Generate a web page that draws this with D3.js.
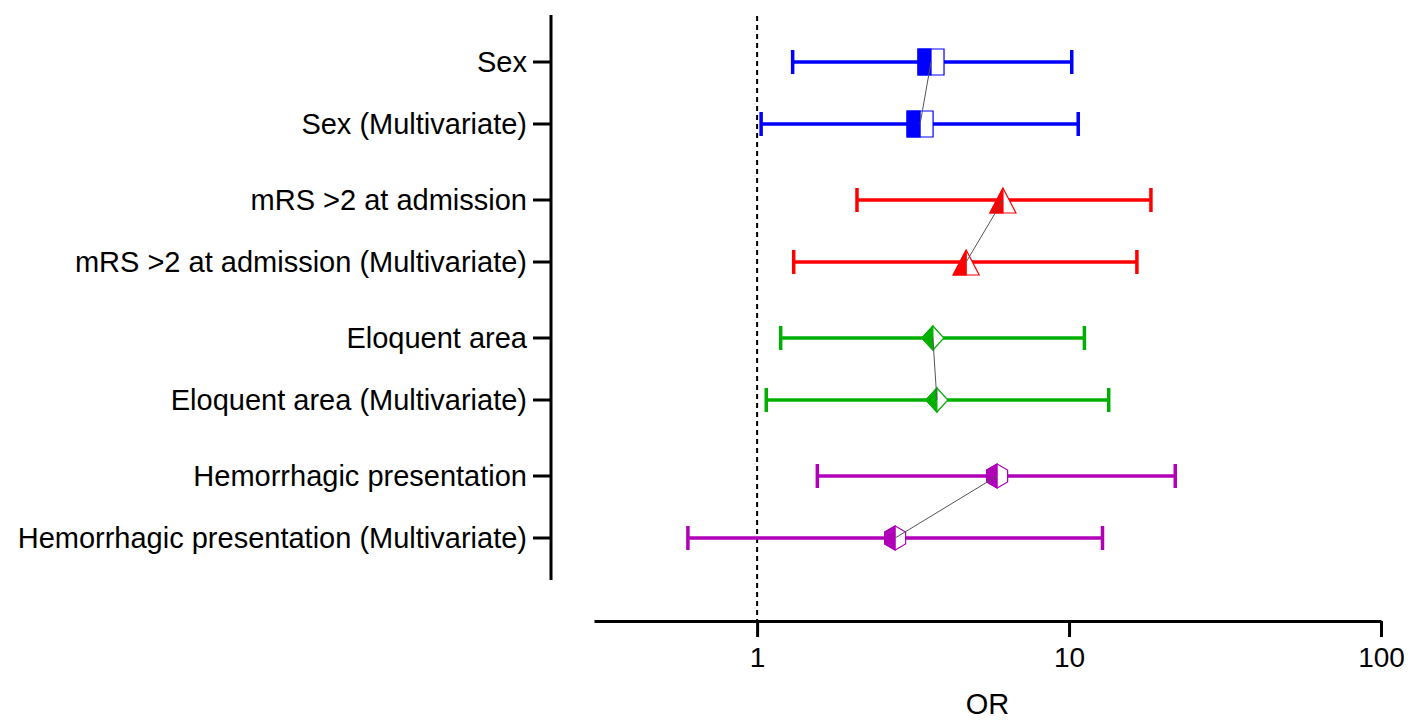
<!DOCTYPE html>
<html>
<head>
<meta charset="utf-8">
<script src="https://cdn.jsdelivr.net/npm/d3@7"></script>
<style>
  body { margin: 0; background: #fff; }
  text { font-family: "Liberation Sans", Arial, sans-serif; fill: #000; }
</style>
</head>
<body>
<script>
// rows, top to bottom
const labels = [
  "Sex",
  "Sex (Multivariate)",
  "mRS >2 at admission",
  "mRS >2 at admission (Multivariate)",
  "Eloquent area",
  "Eloquent area (Multivariate)",
  "Hemorrhagic presentation",
  "Hemorrhagic presentation (Multivariate)"
];
const groups = ["Sex", "mRS", "Eloquent", "Hemorrhagic"];
const orValues = [3.61, 3.33, 6.14, 4.68, 3.66, 3.77, 5.88, 2.77];
const lowerCI = [1.30, 1.03, 2.09, 1.31, 1.19, 1.07, 1.56, 0.60];
const upperCI = [10.2, 10.7, 18.3, 16.5, 11.2, 13.4, 21.9, 12.8];
const xTicks = [1, 10, 100];

const colors = ["#0000ff", "#ff0000", "#00b000", "#b000b8"];
const shapes = ["square", "triangle", "diamond", "hexagon"];

const width = 1418;
const height = 728;

const rows = labels.map((label, i) => ({
  label: label,
  group: groups[Math.floor(i / 2)],
  sub: i % 2,
  or: orValues[i],
  lo: lowerCI[i],
  hi: upperCI[i],
  color: colors[Math.floor(i / 2)],
  shape: shapes[Math.floor(i / 2)]
}));

const svg = d3
  .select("body")
  .append("svg")
  .attr("width", width)
  .attr("height", height);

const x = d3.scaleLog().domain([0.3, 100]).range([594, 1381]);
const yGroup = d3.scalePoint().domain(groups).range([93, 507]);
const y = (d) => yGroup(d.group) + (d.sub === 0 ? -31 : 31);

//Reference line at OR = 1
svg
  .append("line")
  .attr("x1", x(1))
  .attr("x2", x(1))
  .attr("y1", 16)
  .attr("y2", 621)
  .attr("stroke", "#000")
  .attr("stroke-width", 2)
  .attr("stroke-dasharray", "5,4");

//Y axis
const yAxisX = 551;
svg
  .append("line")
  .attr("x1", yAxisX)
  .attr("x2", yAxisX)
  .attr("y1", 15)
  .attr("y2", 580)
  .attr("stroke", "#000")
  .attr("stroke-width", 3);

svg
  .selectAll(".ytick")
  .data(rows)
  .enter()
  .append("line")
  .attr("class", "ytick")
  .attr("x1", yAxisX - 18)
  .attr("x2", yAxisX)
  .attr("y1", (d) => y(d))
  .attr("y2", (d) => y(d))
  .attr("stroke", "#000")
  .attr("stroke-width", 3);

svg
  .selectAll(".ylabel")
  .data(rows)
  .enter()
  .append("text")
  .attr("class", "ylabel")
  .attr("x", yAxisX - 24)
  .attr("y", (d) => y(d))
  .attr("dy", "0.35em")
  .attr("text-anchor", "end")
  .attr("font-size", 29)
  .text((d) => d.label);

//X axis
const xAxis = svg
  .append("g")
  .attr("transform", "translate(0,621)")
  .call(
    d3.axisBottom(x)
      .tickValues(xTicks)
      .tickFormat(d3.format("d"))
      .tickSize(16)
      .tickPadding(10)
      .tickSizeOuter(0)
  );
xAxis.select(".domain").attr("stroke-width", 3).attr("stroke", "#000");
xAxis.selectAll(".tick line").attr("stroke-width", 3).attr("stroke", "#000");
xAxis
  .selectAll(".tick text")
  .attr("font-size", 28)
  .attr("font-family", "Liberation Sans, Arial, sans-serif")
  .attr("fill", "#000");

svg
  .append("text")
  .attr("x", (x.range()[0] + x.range()[1]) / 2)
  .attr("y", 704)
  .attr("dy", "0.35em")
  .attr("text-anchor", "middle")
  .attr("font-size", 29)
  .text("OR");

//Error bars
const bars = svg.selectAll(".bar").data(rows).enter().append("g").attr("class", "bar");
bars
  .append("line")
  .attr("x1", (d) => x(d.lo))
  .attr("x2", (d) => x(d.hi))
  .attr("y1", (d) => y(d))
  .attr("y2", (d) => y(d))
  .attr("stroke", (d) => d.color)
  .attr("stroke-width", 3.5);
["lo", "hi"].forEach((k) => {
  bars
    .append("line")
    .attr("x1", (d) => x(d[k]))
    .attr("x2", (d) => x(d[k]))
    .attr("y1", (d) => y(d) - 12)
    .attr("y2", (d) => y(d) + 12)
    .attr("stroke", (d) => d.color)
    .attr("stroke-width", 3.5);
});

//Half filled markers
const outline = {
  square: [[-13, -13], [13, -13], [13, 13], [-13, 13]],
  triangle: [[0, -12], [13, 13], [-13, 13]],
  diamond: [[0, -12], [11, 0], [0, 12], [-11, 0]],
  hexagon: [[0, -12], [10.5, -6], [10.5, 6], [0, 12], [-10.5, 6], [-10.5, -6]]
};
const leftHalf = {
  square: [[-13, -13], [0, -13], [0, 13], [-13, 13]],
  triangle: [[0, -12], [0, 13], [-13, 13]],
  diamond: [[0, -12], [0, 12], [-11, 0]],
  hexagon: [[0, -12], [0, 12], [-10.5, 6], [-10.5, -6]]
};
const poly = (pts) => "M" + pts.map((p) => p.join(",")).join("L") + "Z";

const markers = svg
  .selectAll(".marker")
  .data(rows)
  .enter()
  .append("g")
  .attr("class", "marker")
  .attr("transform", (d) => `translate(${x(d.or)},${y(d)})`);
markers
  .append("path")
  .attr("d", (d) => poly(outline[d.shape]))
  .attr("fill", "#fff")
  .attr("stroke", (d) => d.color)
  .attr("stroke-width", 1.2);
markers
  .append("path")
  .attr("d", (d) => poly(leftHalf[d.shape]))
  .attr("fill", (d) => d.color)
  .attr("stroke", (d) => d.color)
  .attr("stroke-width", 1.2);

//Connect univariate and multivariate estimates
svg
  .selectAll(".link")
  .data(groups)
  .enter()
  .append("line")
  .attr("class", "link")
  .attr("x1", (g) => x(rows.find((r) => r.group === g && r.sub === 0).or))
  .attr("y1", (g) => yGroup(g) - 31)
  .attr("x2", (g) => x(rows.find((r) => r.group === g && r.sub === 1).or))
  .attr("y2", (g) => yGroup(g) + 31)
  .attr("stroke", "#555")
  .attr("stroke-width", 1);
</script>
</body>
</html>
